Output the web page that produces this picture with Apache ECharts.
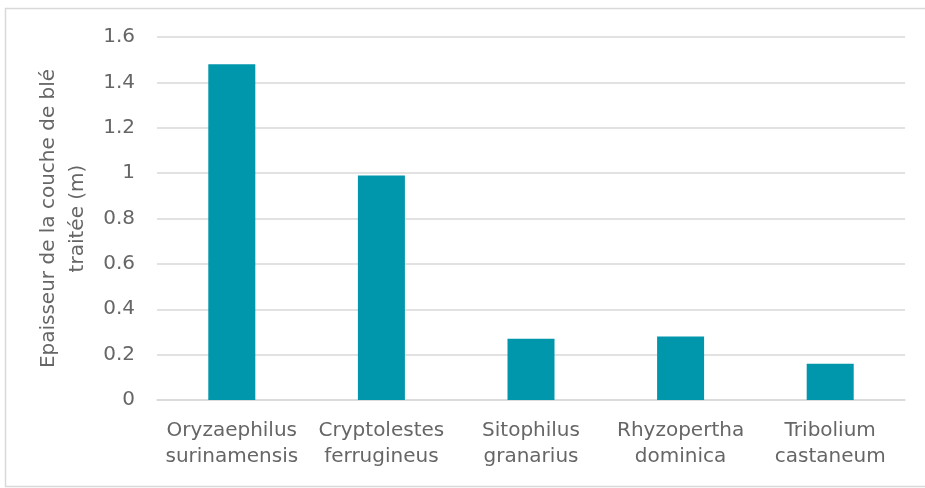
<!DOCTYPE html>
<html>
<head>
<meta charset="utf-8">
<script src="https://cdn.jsdelivr.net/npm/echarts@6/dist/echarts.min.js"></script>
<style>
html,body{margin:0;padding:0;background:#fff;}
#chart{width:925px;height:488px;}
</style>
</head>
<body>
<div id="chart"></div>
<script>
const categories = ["Oryzaephilus\nsurinamensis", "Cryptolestes\nferrugineus", "Sitophilus\ngranarius", "Rhyzopertha\ndominica", "Tribolium\ncastaneum"];
const values = [1.48, 0.99, 0.27, 0.28, 0.16];
const yAxisName = "Epaisseur de la couche de blé\ntraitée (m)";

const chart = echarts.init(document.getElementById('chart'), null, {renderer: 'canvas'});
const font = '"DejaVu Sans"';
const textColor = '#666666';
chart.setOption({
  animation: false,
  backgroundColor: '#ffffff',
  graphic: [{
    type: 'rect',
    shape: {x: 5.5, y: 8.5, width: 930, height: 478},
    style: {fill: 'none', stroke: '#d9d9d9', lineWidth: 1.5},
    silent: true
  }],
  grid: {left: 157, right: 20, top: 37, bottom: 88, containLabel: false},
  xAxis: {
    type: 'category',
    data: categories,
    axisTick: {show: false},
    axisLine: {show: true, lineStyle: {color: '#d9d9d9', width: 1.5}},
    axisLabel: {color: textColor, fontFamily: font, fontSize: 20, lineHeight: 26, margin: 18, interval: 0}
  },
  yAxis: {
    type: 'value',
    min: 0, max: 1.6, interval: 0.2,
    name: yAxisName,
    nameLocation: 'middle',
    nameRotate: 90,
    nameGap: 62,
    nameTextStyle: {color: textColor, fontFamily: font, fontSize: 20, lineHeight: 29},
    axisLine: {show: false},
    axisTick: {show: false},
    splitLine: {lineStyle: {color: '#d9d9d9', width: 1.5}},
    axisLabel: {color: textColor, fontFamily: font, fontSize: 20, margin: 22,
      formatter: v => String(Math.round(v * 10) / 10)}
  },
  series: [{
    type: 'bar',
    data: values,
    barWidth: 47,
    itemStyle: {color: '#0096AB'}
  }]
});
</script>
</body>
</html>
